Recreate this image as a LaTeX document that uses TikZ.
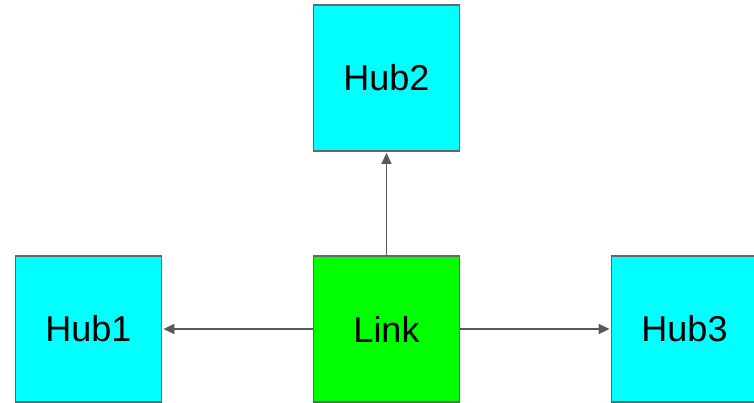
\documentclass[tikz,border=0pt]{standalone}
\usepackage{fontspec}
\setmainfont{Liberation Sans}
\usetikzlibrary{arrows.meta}
\definecolor{hubfill}{HTML}{00FFFF}
\definecolor{linkfill}{HTML}{00FF00}
\definecolor{edgegray}{HTML}{595959}
\definecolor{boxgray}{HTML}{666666}
\begin{document}
\begin{tikzpicture}[x=1pt,y=-1pt,
  box/.style={draw=boxgray,line width=1.8pt,minimum width=146pt,minimum height=146pt,
    inner sep=0pt,font=\fontsize{36}{40}\selectfont},
  hub/.style={box,fill=hubfill},
  linkbox/.style={box,fill=linkfill},
  conn/.style={draw=edgegray,line width=1.5pt,-{Triangle[length=11pt,width=10pt]},shorten >=1pt}]
\useasboundingbox (0,0) rectangle (754,403);
\node[hub] (hub1) at (88.5,329) {Hub1};
\node[linkbox] (link) at (386.5,329) {Link};
\node[hub] (hub2) at (386.5,78) {Hub2};
\node[hub] (hub3) at (684.5,329) {Hub3};
\draw[conn] (link.west) -- (hub1.east);
\draw[conn] (link.north) -- (hub2.south);
\draw[conn] (link.east) -- (hub3.west);
\end{tikzpicture}
\end{document}
